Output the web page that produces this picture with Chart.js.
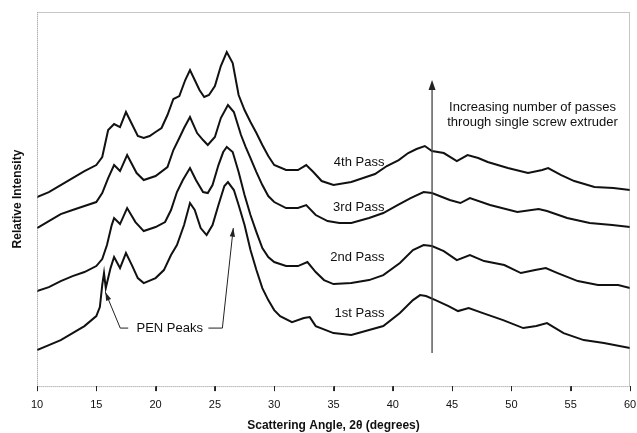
<!DOCTYPE html>
<html>
<head>
<meta charset="utf-8">
<script src="https://cdn.jsdelivr.net/npm/chart.js@4.4.1/dist/chart.umd.min.js"></script>
<style>
  html, body { margin: 0; padding: 0; background: #fff; }
  #wrap { width: 637px; height: 433px; }
</style>
</head>
<body>
<div id="wrap"><canvas id="xrd"></canvas></div>
<script>
// 2-theta angles (degrees) and relative intensity (arbitrary units) per pass
const pass1Angle = [10, 11, 12, 13, 14, 15, 15.3, 15.5, 15.65, 15.8, 16.2, 16.5, 17, 17.5, 18, 18.5, 19, 20, 20.7, 21.3, 21.8, 22.4, 22.9, 23.3, 23.8, 24.3, 24.8, 25.3, 25.8, 26.1, 26.6, 27, 27.5, 28, 28.5, 29, 29.5, 30, 30.5, 31.5, 32.5, 33, 33.5, 35, 36.5, 38, 39.2, 40.6, 41.7, 42.3, 42.8, 43.6, 44.7, 45.5, 46.4, 47.6, 49.3, 51, 52.1, 53, 54.4, 56.1, 57.8, 60];
const pass1Value = [36, 41, 46, 53, 60, 70, 79, 101, 113, 98, 118, 129, 118, 133, 121, 108, 103, 108, 116, 131, 141, 161, 183, 176, 158, 151, 161, 181, 200, 204, 196, 181, 161, 136, 116, 98, 86, 76, 70, 64, 68, 69, 60, 53, 51, 56, 60, 73, 86, 91, 90, 86, 80, 75, 78, 73, 66, 58, 60, 63, 53, 46, 43, 38];

const pass2Angle = [10, 11, 12, 13, 14, 15, 15.5, 15.9, 16.3, 16.5, 17, 17.6, 18.3, 19, 20, 20.8, 21.3, 21.8, 22.3, 22.9, 23.4, 24, 24.4, 24.8, 25.3, 25.7, 26, 26.5, 27, 27.5, 28, 28.5, 29, 29.5, 30, 31, 32, 32.8, 33.5, 34.2, 35, 36.5, 38, 39.2, 40.6, 41.7, 42.6, 43.3, 44.3, 45.4, 46.5, 47.7, 49.4, 50.8, 52, 52.9, 53.9, 55.6, 57.3, 59, 60];
const pass2Value = [95, 99, 105, 110, 114, 120, 127, 141, 161, 168, 162, 178, 164, 155, 159, 164, 176, 194, 206, 218, 206, 194, 193, 201, 221, 234, 239, 234, 214, 191, 171, 154, 138, 129, 124, 120, 120, 124, 114, 106, 102, 103, 106, 111, 123, 136, 141, 140, 135, 126, 131, 125, 121, 113, 116, 118, 113, 105, 101, 101, 98];

const pass3Angle = [10, 11, 12, 13, 14, 15, 15.5, 16, 16.5, 17, 17.6, 18.4, 19, 20, 21, 21.5, 22, 22.4, 22.9, 23.5, 24, 24.4, 25, 25.5, 26.1, 26.6, 27.2, 27.6, 28, 28.5, 29, 29.5, 30, 31, 32, 32.7, 33.5, 34.5, 35.5, 36.5, 38, 39.2, 40.4, 41.5, 42.6, 43.3, 44.8, 45.7, 46.5, 48.2, 50.5, 52.3, 53, 54.7, 56.6, 58.5, 60];
const pass3Value = [158, 165, 172, 176, 180, 184, 193, 208, 221, 215, 231, 213, 206, 210, 219, 236, 248, 258, 269, 253, 246, 241, 249, 268, 281, 274, 251, 239, 228, 214, 201, 190, 184, 178, 178, 181, 171, 165, 163, 163, 168, 173, 181, 188, 194, 193, 186, 183, 188, 181, 174, 177, 175, 168, 163, 161, 159];

const pass4Angle = [10, 11, 12, 13, 14, 15, 15.5, 16, 16.5, 17, 17.5, 18, 18.5, 19, 19.5, 20, 20.5, 21, 21.5, 22, 22.5, 22.9, 23.3, 23.7, 24.1, 24.5, 25, 25.5, 26, 26.5, 27, 27.5, 28, 28.5, 29, 29.5, 30, 31, 32, 32.7, 33.3, 34, 35, 36.5, 37.5, 38.5, 39.5, 40.5, 41.3, 42, 42.7, 43.3, 44.3, 45.4, 46.3, 47.2, 48, 49.7, 51.4, 52.6, 53.1, 54.2, 55.3, 57, 58.6, 60];
const pass4Value = [189, 194, 201, 208, 215, 221, 229, 256, 262, 259, 274, 262, 250, 248, 250, 254, 258, 271, 287, 290, 306, 316, 306, 296, 289, 291, 300, 320, 334, 323, 291, 276, 264, 253, 241, 230, 221, 216, 216, 221, 214, 205, 201, 204, 208, 212, 220, 226, 233, 237, 240, 235, 233, 225, 231, 228, 224, 218, 213, 216, 218, 211, 205, 199, 198, 196];

const xTicks = [10, 15, 20, 25, 30, 35, 40, 45, 50, 55, 60];

const toPoints = (a, v) => a.map((x, i) => ({ x: x, y: v[i] }));

const serif = "'Liberation Sans', Arial, sans-serif";

// frame around plot + text annotations, placed in data units
const annotate = {
  id: "annotate",
  afterDatasetsDraw(chart) {
    const ctx = chart.ctx;
    const a = chart.chartArea;
    const xs = chart.scales.x, ys = chart.scales.y;
    const px = (v) => xs.getPixelForValue(v);
    const py = (v) => ys.getPixelForValue(v);

    ctx.save();
    ctx.strokeStyle = "#8c8c8c";
    ctx.lineWidth = 1;
    ctx.setLineDash([1, 1]);
    ctx.strokeRect(a.left + 0.5, a.top + 0.5, a.right - a.left - 1, a.bottom - a.top);
    ctx.setLineDash([]);

    // tick marks below the axis
    ctx.strokeStyle = "#222";
    xTicks.forEach((t) => {
      const x = Math.round(px(t)) + 0.5;
      ctx.beginPath();
      ctx.moveTo(x, a.bottom);
      ctx.lineTo(x, a.bottom + 5);
      ctx.stroke();
    });

    ctx.fillStyle = "#111";
    ctx.font = "13px " + serif;
    ctx.textBaseline = "middle";
    ctx.textAlign = "right";
    ctx.fillText("4th Pass", px(39.29), py(224));
    ctx.fillText("3rd Pass", px(39.29), py(179));
    ctx.fillText("2nd Pass", px(39.29), py(129));
    ctx.fillText("1st Pass", px(39.29), py(73));

    ctx.textAlign = "center";
    ctx.fillText("Increasing number of passes", px(51.78), py(279));
    ctx.fillText("through single screw extruder", px(51.78), py(264));
    ctx.fillText("PEN Peaks", px(21.19), py(58));

    // vertical arrow
    ctx.strokeStyle = "#444";
    ctx.fillStyle = "#222";
    ctx.lineWidth = 1.3;
    ctx.beginPath();
    ctx.moveTo(px(43.31), py(33));
    ctx.lineTo(px(43.31), py(298));
    ctx.stroke();
    ctx.beginPath();
    ctx.moveTo(px(43.31), py(306));
    ctx.lineTo(px(43.31) - 3.5, py(296));
    ctx.lineTo(px(43.31) + 3.5, py(296));
    ctx.closePath();
    ctx.fill();

    // PEN peak leaders
    const leader = (pts) => {
      ctx.lineWidth = 1;
      ctx.strokeStyle = "#222";
      ctx.beginPath();
      ctx.moveTo(px(pts[0][0]), py(pts[0][1]));
      for (let i = 1; i < pts.length; i++) ctx.lineTo(px(pts[i][0]), py(pts[i][1]));
      ctx.stroke();
      const tx = px(pts[pts.length - 1][0]), ty = py(pts[pts.length - 1][1]);
      const fx = px(pts[pts.length - 2][0]), fy = py(pts[pts.length - 2][1]);
      const ang = Math.atan2(ty - fy, tx - fx);
      ctx.beginPath();
      ctx.moveTo(tx, ty);
      ctx.lineTo(tx - 9 * Math.cos(ang - 0.3), ty - 9 * Math.sin(ang - 0.3));
      ctx.lineTo(tx - 9 * Math.cos(ang + 0.3), ty - 9 * Math.sin(ang + 0.3));
      ctx.closePath();
      ctx.fill();
    };
    leader([[17.69, 58], [17.02, 58], [15.76, 94]]);
    leader([[24.45, 58], [25.63, 58], [26.55, 158]]);
    ctx.restore();
  },
};

new Chart(document.getElementById("xrd"), {
  type: "line",
  data: {
    datasets: [
      { label: "1st Pass", data: toPoints(pass1Angle, pass1Value) },
      { label: "2nd Pass", data: toPoints(pass2Angle, pass2Value) },
      { label: "3rd Pass", data: toPoints(pass3Angle, pass3Value) },
      { label: "4th Pass", data: toPoints(pass4Angle, pass4Value) },
    ].map((d) => Object.assign(d, {
      borderColor: "#111",
      borderWidth: 2,
      pointRadius: 0,
      tension: 0,
      fill: false,
    })),
  },
  options: {
    responsive: true,
    maintainAspectRatio: false,
    animation: false,
    layout: { padding: { left: 0, right: 7, top: 12, bottom: 0 } },
    plugins: {
      legend: { display: false },
      tooltip: { enabled: false },
    },
    scales: {
      x: {
        type: "linear",
        min: 10,
        max: 60,
        afterBuildTicks: (s) => { s.ticks = xTicks.map((v) => ({ value: v })); },
        afterFit: (s) => { s.paddingLeft = 0; s.paddingRight = 0; },
        grid: { display: true, drawOnChartArea: false, drawTicks: true, tickLength: 5, color: "#333" },
        border: { display: false },
        ticks: {
          color: "#111",
          padding: 8,
          font: { family: serif, size: 11, lineHeight: 1 },
          maxRotation: 0,
        },
        title: {
          display: true,
          text: "Scattering Angle, 2\u03b8 (degrees)",
          color: "#111",
          font: { family: serif, size: 12, weight: "bold", lineHeight: 1.2 },
          padding: { top: 0, bottom: 0.5 },
        },
      },
      y: {
        min: 0,
        max: 374,
        grid: { display: false, drawTicks: false },
        border: { display: false },
        ticks: { display: false },
        title: {
          display: true,
          text: "Relative Intensity",
          color: "#111",
          font: { family: serif, size: 12, weight: "bold", lineHeight: 1.2 },
          padding: { top: 10.3, bottom: 12.3 },
        },
      },
    },
  },
  plugins: [annotate],
});
</script>
</body>
</html>
